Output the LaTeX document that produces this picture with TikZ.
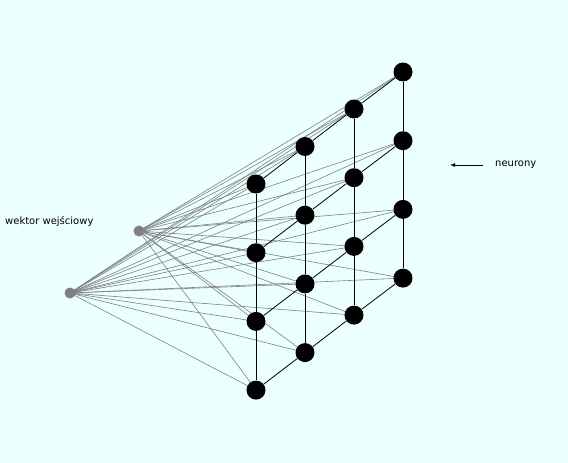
\documentclass[tikz,border=0pt]{standalone}
\usepackage{fontspec}
\setmainfont{DejaVu Sans}
\usetikzlibrary{backgrounds}
\definecolor{bg}{RGB}{236,255,255}
\definecolor{wire}{RGB}{128,128,128}
\begin{document}
\begin{tikzpicture}[x=1pt,y=-1pt,
  neuron/.style={circle,fill=black,inner sep=0pt,minimum size=19pt},
  innode/.style={circle,fill=wire,inner sep=0pt,minimum size=11pt},
  weight/.style={wire,line width=0.6pt},
  link/.style={black,line width=0.8pt},
  lbl/.style={font=\fontsize{10}{11}\selectfont,inner sep=0pt}]
\useasboundingbox (0,0) rectangle (568,463);
% neurons: n<row><col>
\foreach \c/\x/\y in {0/256/184,1/305/146.5,2/354/109,3/403/72}{
  \foreach \r in {0,1,2,3}{
    \node[neuron] (n\r\c) at (\x,{\y+68.7*\r}) {};
  }
}
\node[innode] (a) at (139,231) {};
\node[innode] (b) at (70,293) {};
\begin{pgfonlayer}{background}
\fill[bg] (0,0) rectangle (568,463);
\foreach \r in {0,1,2,3}{
  \foreach \c in {0,1,2,3}{
    \draw[weight] (a.center) -- (n\r\c.center);
    \draw[weight] (b.center) -- (n\r\c.center);
  }
}
\foreach \c in {0,1,2,3}{
  \draw[link] (n0\c) -- (n1\c) -- (n2\c) -- (n3\c);
}
\foreach \r in {0,1,2,3}{
  \draw[link] (n\r0) -- (n\r1) -- (n\r2) -- (n\r3);
}
\end{pgfonlayer}
\node[lbl,anchor=west] (in) at (5,222) {wektor wejściowy};
\node[lbl,anchor=west] (ne) at (495,165) {neurony};
\coordinate (arrS) at (483,165);
\coordinate (arrE) at (450,165);
\draw[-latex,line width=0.8pt] (arrS) -- (arrE);
\end{tikzpicture}
\end{document}
